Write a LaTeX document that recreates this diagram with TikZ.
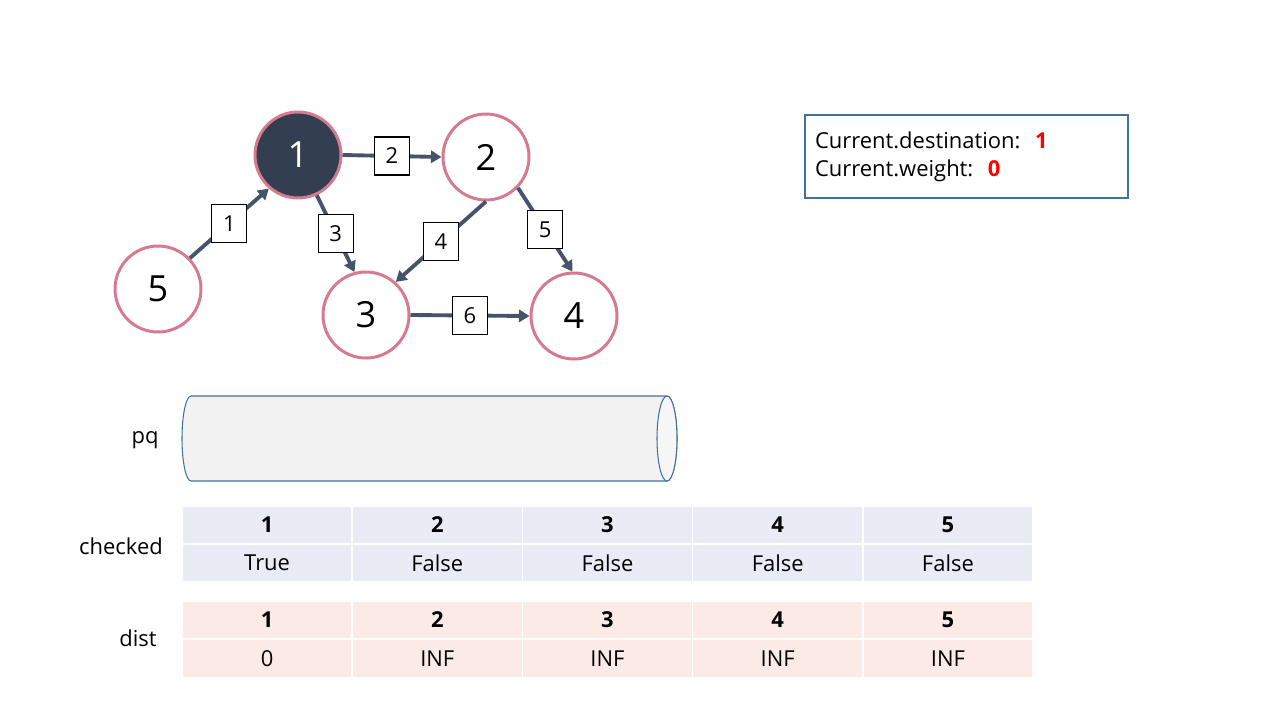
\documentclass[tikz,border=0pt]{standalone}
\usepackage{fontspec}
\setmainfont{Open Sans}
\usepackage{tikz}
\usetikzlibrary{calc,arrows.meta,positioning}
\definecolor{ringPink}{RGB}{213,122,143}
\definecolor{nodeDark}{RGB}{51,63,80}
\definecolor{edgeSlate}{RGB}{68,84,106}
\definecolor{pqBlue}{RGB}{65,113,156}
\definecolor{pqGray}{RGB}{242,242,242}
\definecolor{pqCap}{RGB}{246,246,246}
\definecolor{chkFill}{RGB}{233,236,245}
\definecolor{distFill}{RGB}{251,234,230}
\definecolor{curRed}{RGB}{255,0,0}

\begin{document}
\begin{tikzpicture}[
  vtx/.style={circle, draw=ringPink, line width=1.7pt, fill=white, minimum size=1.72cm, inner sep=0pt, font=\fontsize{20.5}{24}\selectfont},
  edge/.style={edgeSlate, line width=2.2pt, -{Triangle[length=6pt,width=7pt]}},
  wt/.style={draw=black, fill=white, line width=0.6pt, minimum width=0.7cm, minimum height=0.76cm, inner sep=0pt, font=\fontsize{12.5}{14}\selectfont, text=black},
  cell/.style={rectangle, draw=white, line width=1pt, minimum width=3.404cm, minimum height=0.76cm, inner sep=0pt, font=\fontsize{12.5}{14}\selectfont},
  lbl/.style={font=\fontsize{12.5}{15}\selectfont}
]
\useasboundingbox (0,0) rectangle (25.6,-14.4);

% graph
\node[vtx, fill=nodeDark, text=white] (v1) at (5.96,-3.10) {1};
\node[vtx] (v2) at (9.72,-3.14) {2};
\node[vtx] (v3) at (7.32,-6.30) {3};
\node[vtx] (v4) at (11.48,-6.32) {4};
\node[vtx] (v5) at (3.16,-5.78) {5};

\draw[edge] (v5.44) -- node[wt] (w51) {1} (v1.229);
\draw[edge] (v1.east) -- node[wt] (w12) {2} (v2.west);
\draw[edge] (v1.-65) -- node[wt] (w13) {3} (v3.105);
\draw[edge] (v2.south) -- node[wt] (w23) {4} (v3.48);
\draw[edge] (v2.-44) -- node[wt] (w24) {5} (v4.92);
\draw[edge] (v3.east) -- node[wt] (w34) {6} (v4.west);

% current info
\node[draw=pqBlue, line width=0.6pt, minimum width=6.46cm, minimum height=1.66cm, text width=6.06cm, inner xsep=0.2cm, align=left, font=\fontsize{12.5}{16}\selectfont] (info) at (19.33,-3.13)
  {Current.destination:~~{\bfseries\color{curRed}1}\\Current.weight:~~{\bfseries\color{curRed}0}};

% pq
\draw[pqBlue, line width=0.6pt, fill=pqGray] (3.82,-7.92) -- (13.34,-7.92)
  arc[start angle=90, end angle=-90, x radius=0.2, y radius=0.85] -- (3.82,-9.62)
  arc[start angle=270, end angle=90, x radius=0.18, y radius=0.85] -- cycle;
\draw[pqBlue, line width=0.6pt, fill=pqCap] (13.34,-8.77) ellipse[x radius=0.2, y radius=0.85];
\node[lbl] (pq) at (2.9,-8.8) {pq};

% tables
\foreach \i/\c/\d in {1/True/0, 2/False/INF, 3/False/INF, 4/False/INF, 5/False/INF} {
  \node[cell, fill=chkFill, font=\fontsize{12.5}{14}\selectfont\bfseries] (chk-h\i) at ({3.64+(\i-0.5)*3.404},-10.5) {\i};
  \node[cell, fill=chkFill] (chk-v\i) at ({3.64+(\i-0.5)*3.404},-11.26) {\c};
  \node[cell, fill=distFill, font=\fontsize{12.5}{14}\selectfont\bfseries] (dist-h\i) at ({3.64+(\i-0.5)*3.404},-12.4) {\i};
  \node[cell, fill=distFill] (dist-v\i) at ({3.64+(\i-0.5)*3.404},-13.17) {\d};
}
\node[lbl, anchor=east] (checked) at (3.38,-10.92) {checked};
\node[lbl] (dist) at (2.76,-12.76) {dist};
\end{tikzpicture}
\end{document}
